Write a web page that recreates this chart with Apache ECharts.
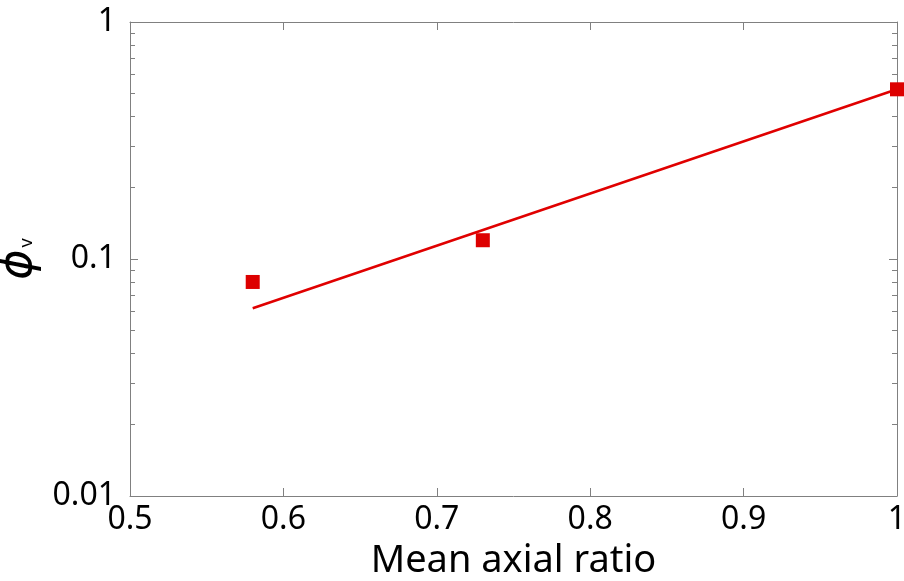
<!DOCTYPE html>
<html>
<head>
<meta charset="utf-8">
<script src="https://cdn.jsdelivr.net/npm/echarts@6/dist/echarts.min.js"></script>
<style>html,body{margin:0;padding:0;background:#fff}#c{width:904px;height:581px}</style>
</head>
<body>
<div id="c"></div>
<script>
// Data
const axialRatio = [0.58, 0.73, 1.0];
const phiV = [0.08, 0.12, 0.52];
const fitX = [0.58, 1.0];
const fitY = [0.062, 0.52];
const xTicks = [0.5, 0.6, 0.7, 0.8, 0.9, 1];
const yMajor = [0.01, 0.1, 1];
const yMinor = [0.02,0.03,0.04,0.05,0.06,0.07,0.08,0.09,0.2,0.3,0.4,0.5,0.6,0.7,0.8,0.9];

const F = '"Noto Sans", "Liberation Sans", Arial, sans-serif';
const axisColor = '#808080';
const red = '#dd0000';

function yAx(pos, ticks, len, showLabel, showLine) {
  return {
    type: 'log', logBase: 10, min: 0.01, max: 1, position: pos,
    axisLine: {show: showLine, lineStyle: {color: axisColor, width: 1}},
    axisTick: {show: true, inside: true, length: len, customValues: ticks, lineStyle: {color: axisColor, width: 1}},
    axisLabel: {show: showLabel, customValues: yMajor, margin: 14, color: '#000', fontSize: 32, fontFamily: F,
      formatter: v => String(+(+v).toPrecision(3))},
    splitLine: {show: false}
  };
}

const chart = echarts.init(document.getElementById('c'), null, {renderer: 'canvas'});
chart.setOption({
  animation: false,
  backgroundColor: '#fff',
  grid: {left: 130, right: 7, top: 22, bottom: 85, containLabel: false, outerBoundsMode: 'none'},
  xAxis: [
    {type: 'value', min: 0.5, max: 1, interval: 0.1, position: 'bottom',
     name: 'Mean axial ratio', nameLocation: 'middle', nameGap: 46,
     nameTextStyle: {color: '#000', fontSize: 38, fontFamily: F},
     axisLine: {show: true, lineStyle: {color: axisColor, width: 1}},
     axisTick: {show: true, inside: true, length: 8, lineStyle: {color: axisColor}},
     axisLabel: {color: '#000', fontSize: 32, fontFamily: F, margin: 8,
       formatter: v => (+v === 1 ? '1' : (+v).toFixed(1))},
     splitLine: {show: false}},
    {type: 'value', min: 0.5, max: 1, interval: 0.1, position: 'top',
     axisLine: {show: true, lineStyle: {color: axisColor, width: 1}},
     axisTick: {show: true, inside: true, length: 8, lineStyle: {color: axisColor}},
     axisLabel: {show: false}, splitLine: {show: false}}
  ],
  yAxis: [
    Object.assign(yAx('left', yMajor, 8, true, true), {
      name: '{p|ϕ}{s|v}', nameLocation: 'middle', nameRotate: 90, nameGap: 80,
      nameTextStyle: {rich: {
        p: {fontSize: 46, fontStyle: 'italic', fontFamily: '"DejaVu Sans", sans-serif', color: '#000'},
        s: {fontSize: 18, fontFamily: F, color: '#000', verticalAlign: 'bottom', padding: [0,0,6,2]}
      }}
    }),
    yAx('left', yMinor, 5, false, false),
    yAx('right', yMajor, 8, false, true),
    yAx('right', yMinor, 5, false, false)
  ],
  series: [
    {type: 'line', xAxisIndex: 0, yAxisIndex: 0, showSymbol: false, symbol: 'none',
     data: fitX.map((x, i) => [x, fitY[i]]),
     lineStyle: {color: '#e00000', width: 2.5}, z: 2},
    {type: 'scatter', xAxisIndex: 0, yAxisIndex: 0, symbol: 'rect', symbolSize: 14,
     data: axialRatio.map((x, i) => [x, phiV[i]]),
     itemStyle: {color: red, opacity: 1}, z: 3, clip: false}
  ]
});
</script>
</body>
</html>
